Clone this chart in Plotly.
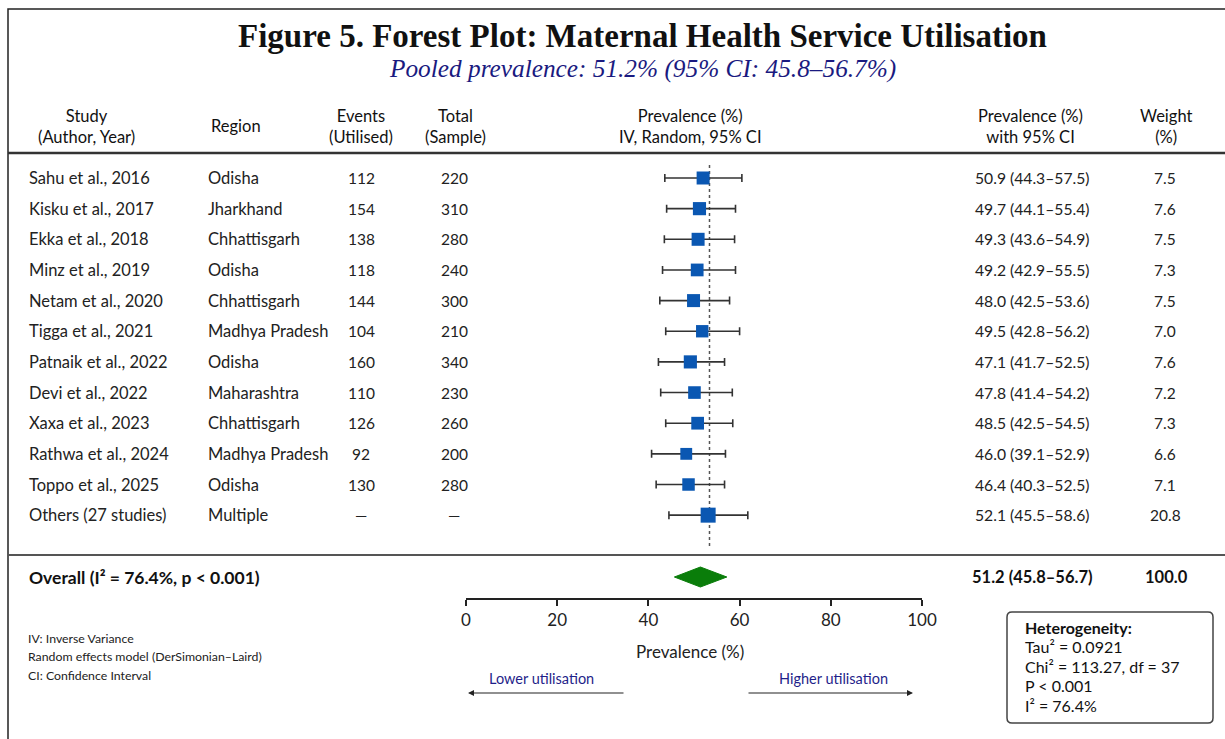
import plotly.graph_objects as go

# ---------------- data ----------------
studies = ["Sahu et al., 2016", "Kisku et al., 2017", "Ekka et al., 2018", "Minz et al., 2019",
           "Netam et al., 2020", "Tigga et al., 2021", "Patnaik et al., 2022", "Devi et al., 2022",
           "Xaxa et al., 2023", "Rathwa et al., 2024", "Toppo et al., 2025", "Others (27 studies)"]
regions = ["Odisha", "Jharkhand", "Chhattisgarh", "Odisha", "Chhattisgarh", "Madhya Pradesh",
           "Odisha", "Maharashtra", "Chhattisgarh", "Madhya Pradesh", "Odisha", "Multiple"]
events = ["112", "154", "138", "118", "144", "104", "160", "110", "126", "92", "130", "—"]
totals = ["220", "310", "280", "240", "300", "210", "340", "230", "260", "200", "280", "—"]
prev_text = ["50.9 (44.3–57.5)", "49.7 (44.1–55.4)", "49.3 (43.6–54.9)", "49.2 (42.9–55.5)",
             "48.0 (42.5–53.6)", "49.5 (42.8–56.2)", "47.1 (41.7–52.5)", "47.8 (41.4–54.2)",
             "48.5 (42.5–54.5)", "46.0 (39.1–52.9)", "46.4 (40.3–52.5)", "52.1 (45.5–58.6)"]
weights = [7.5, 7.6, 7.5, 7.3, 7.5, 7.0, 7.6, 7.2, 7.3, 6.6, 7.1, 20.8]
# plotted estimates / CI as drawn in the figure
est = [52.0, 51.2, 50.9, 50.7, 49.9, 51.8, 49.2, 50.1, 50.8, 48.3, 48.8, 53.1]
lo = [43.6, 44.0, 43.5, 43.1, 42.5, 43.8, 42.2, 42.7, 43.8, 40.7, 41.7, 44.5]
hi = [60.5, 59.1, 58.9, 59.1, 57.8, 60.0, 56.7, 58.4, 58.5, 56.9, 56.7, 61.8]
pooled_est, pooled_lo, pooled_hi = 51.4, 45.7, 57.2
ref_line = 53.4
overall_label = "Overall (I² = 76.4%, p < 0.001)"
overall_prev = "51.2 (45.8–56.7)"
overall_weight = "100.0"
tick_vals = [0, 20, 40, 60, 80, 100]
title = "Figure 5. Forest Plot: Maternal Health Service Utilisation"
subtitle = "Pooled prevalence: 51.2% (95% CI: 45.8–56.7%)"
headers = [("Study<br>(Author, Year)", 86), ("Region", 236), ("Events<br>(Utilised)", 361),
           ("Total<br>(Sample)", 455), ("Prevalence (%)<br>IV, Random, 95% CI", 690),
           ("Prevalence (%)<br>with 95% CI", 1030), ("Weight<br>(%)", 1166)]
footnotes = ["IV: Inverse Variance", "Random effects model (DerSimonian–Laird)", "CI: Confidence Interval"]
het_lines = ["<b>Heterogeneity:</b>", "Tau² = 0.0921", "Chi² = 113.27, df = 37", "P < 0.001", "I² = 76.4%"]

# ---------------- layout helpers ----------------
W, H = 1225, 739
FONT = "Lato"
def px(x):
    return x / W

row0, row_h = 178, 30.65
rows_y = [row0 + i * row_h for i in range(len(studies))]

fig = go.Figure()

# error bars + squares
sizes = [min(15, 13 + (w - 7.5) * 1.3) for w in weights]
fig.add_trace(go.Scatter(
    x=est, y=rows_y, mode="markers", opacity=1,
    marker=dict(symbol="square", size=sizes, color="#0a57b2", opacity=1, line=dict(width=0)),
    error_x=dict(type="data", symmetric=False,
                 array=[h - e for h, e in zip(hi, est)],
                 arrayminus=[e - l for e, l in zip(est, lo)],
                 color="#333333", thickness=1.6, width=4),
    showlegend=False, hoverinfo="skip"))

# pooled diamond
dy = 10
yd = 577
fig.add_trace(go.Scatter(
    x=[pooled_lo, pooled_est, pooled_hi, pooled_est, pooled_lo],
    y=[yd, yd - dy, yd, yd + dy, yd], mode="lines", fill="toself",
    fillcolor="#0a7d0a", line=dict(color="#0a7d0a", width=1),
    showlegend=False, hoverinfo="skip"))

shapes = []
# frame
shapes.append(dict(type="rect", xref="paper", yref="y", x0=px(8), x1=px(1240), y0=9, y1=760,
                   line=dict(color="#222", width=1.5), layer="below"))
# header rule
shapes.append(dict(type="line", xref="paper", yref="y", x0=px(8), x1=1, y0=153, y1=153,
                   line=dict(color="#333", width=2.5), layer="below"))
# separator before overall
shapes.append(dict(type="line", xref="paper", yref="y", x0=px(8), x1=1, y0=555, y1=555,
                   line=dict(color="#555", width=2), layer="below"))
# dotted reference line
shapes.append(dict(type="line", xref="x", yref="y", x0=ref_line, x1=ref_line, y0=165, y1=547,
                   line=dict(color="#555", width=1.5, dash="dot"), layer="below"))
# heterogeneity box (rounded)
bx0, bx1, by0, by1, r = 1007, 1213, 612, 723, 5
path = (f"M {px(bx0 + r)},{by0} L {px(bx1 - r)},{by0} Q {px(bx1)},{by0} {px(bx1)},{by0 + r} "
        f"L {px(bx1)},{by1 - r} Q {px(bx1)},{by1} {px(bx1 - r)},{by1} "
        f"L {px(bx0 + r)},{by1} Q {px(bx0)},{by1} {px(bx0)},{by1 - r} "
        f"L {px(bx0)},{by0 + r} Q {px(bx0)},{by0} {px(bx0 + r)},{by0} Z")
shapes.append(dict(type="path", xref="paper", yref="y", path=path,
                   line=dict(color="#444", width=1.5), fillcolor="white", layer="below"))

ann = []
def text(x, y, s, size=15, color="#222", anchor="left", family=FONT, yanchor="middle"):
    ann.append(dict(xref="paper", yref="y", x=px(x), y=y, text=s, showarrow=False,
                    xanchor=anchor, yanchor=yanchor, align="center" if anchor == "center" else anchor,
                    font=dict(family=family, size=size, color=color)))

text(642, 36, "<b>" + title + "</b>", size=33, color="#111", anchor="center", family="Liberation Serif")
text(642, 68, "<i>" + subtitle + "</i>", size=25.3, color="#1a1a80", anchor="center", family="Liberation Serif")
for h, x in headers:
    text(x, 126, h, size=16.5, color="#111", anchor="center")

for i, y in enumerate(rows_y):
    text(27, y, studies[i], size=16.5)
    text(206, y, regions[i], size=16.5)
    text(361, y, events[i], size=15.5, anchor="center")
    text(454, y, totals[i], size=15.5, anchor="center")
    text(1032, y, prev_text[i], size=15.7, anchor="center")
    text(1165, y, f"{weights[i]:.1f}", size=15.5, anchor="center")

text(27, 577, "<b>" + overall_label + "</b>", size=17.5, color="#111")
text(1032, 577, "<b>" + overall_prev + "</b>", size=16.5, anchor="center", color="#111")
text(1166, 577, "<b>" + overall_weight + "</b>", size=16.5, anchor="center", color="#111")

for k, f in enumerate(footnotes):
    text(26, 638 + k * 18.5, f, size=12.3)

text(690, 651, "Prevalence (%)", size=17, anchor="center")
text(541, 678, "Lower utilisation", size=14.5, color="#1f1f8a", anchor="center")
text(833, 678, "Higher utilisation", size=14.5, color="#1f1f8a", anchor="center")

# arrows
ann.append(dict(xref="paper", yref="y", x=px(468), y=693, ax=625 - 468, ay=0, text="",
                showarrow=True, arrowhead=2, arrowsize=1, arrowwidth=1.2, arrowcolor="#222"))
ann.append(dict(xref="paper", yref="y", x=px(913), y=693, ax=747 - 913, ay=0, text="",
                showarrow=True, arrowhead=2, arrowsize=1, arrowwidth=1.2, arrowcolor="#222"))

for k, s in enumerate(het_lines):
    text(1023, 627 + k * 19.5, s, size=16, color="#111")

fig.update_layout(
    width=W, height=H, margin=dict(l=0, r=0, t=0, b=0, pad=0, autoexpand=False),
    autosize=False,
    paper_bgcolor="white", plot_bgcolor="rgba(0,0,0,0)",
    shapes=shapes, annotations=ann,
    xaxis=dict(domain=[px(466), px(922)], range=[0, 100], tickvals=tick_vals,
               anchor="free", position=1 - 599 / H, showline=True, linecolor="#222", linewidth=1.5,
               ticks="outside", ticklen=6, tickwidth=1.5, tickcolor="#222", automargin=False,
               tickfont=dict(family=FONT, size=17, color="#222"),
               showgrid=False, zeroline=False, fixedrange=True),
    yaxis=dict(domain=[0, 1], range=[H, 0], visible=False, fixedrange=True, automargin=False),
)

fig.write_html("out.html", config={"responsive": False, "displayModeBar": False})
